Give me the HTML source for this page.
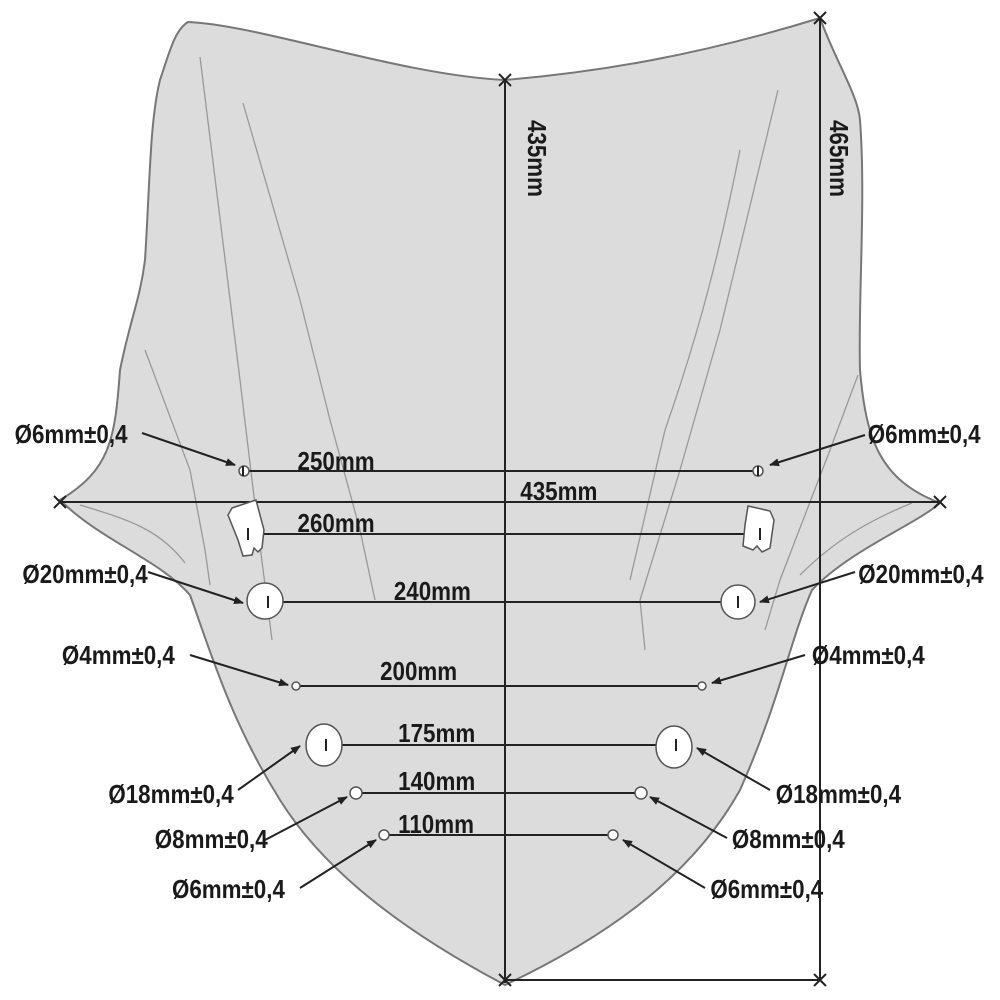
<!DOCTYPE html>
<html><head><style>
html,body{margin:0;padding:0;background:#fff;width:1000px;height:1000px;overflow:hidden}
svg text{font-family:"Liberation Sans",sans-serif;font-weight:bold;fill:#1a1a1a}
</style></head><body>
<svg width="1000" height="1000" viewBox="0 0 1000 1000" xmlns="http://www.w3.org/2000/svg">
<defs><marker id="a" markerWidth="10" markerHeight="8" refX="9" refY="4" orient="auto" markerUnits="userSpaceOnUse"><path d="M0,0 L10,4 L0,8 Z" fill="#222"/></marker></defs>
<path d="M188,22 C260,25 400,75 505,80 C600,72 700,55 820,18 C835,60 858,95 860,120 C866,200 858,300 860,370 C866,440 880,480 940,503 C915,525 850,550 812,590 C790,640 780,700 740,790 C690,880 600,940 505,985 C420,940 330,880 280,800 C230,720 210,650 190,595 C160,560 100,540 60,500 C110,470 115,440 120,370 C130,320 140,300 145,260 C150,180 150,120 160,80 C170,50 175,30 188,22 Z" fill="#dcdcdc" stroke="#777" stroke-width="2"/>
<g stroke="#999" stroke-width="1.3" fill="none">
<path d="M200,57 L240,380 L258,530 L272,640"/>
<path d="M243,103 L300,300 L330,420 L360,530 L375,600"/>
<path d="M145,350 L190,470 L205,550 L210,585"/>
<path d="M80,505 C130,520 160,530 185,563"/>
<path d="M778,90 L720,330 L680,470 L640,600 L645,650"/>
<path d="M740,150 C720,250 700,330 665,430 L630,580"/>
<path d="M858,375 L830,450 L780,580 L765,630"/>
<path d="M912,503 C870,520 835,540 800,575"/>
</g>
<g stroke="#222" stroke-width="2" fill="none">
<line x1="505" y1="80" x2="505" y2="983"/>
<line x1="820" y1="18" x2="820" y2="980"/>
<line x1="505" y1="980" x2="820" y2="980"/>
<line x1="60" y1="502" x2="940" y2="502"/>
<path d="M499,74 l12,12 M511,74 l-12,12 M814,12 l12,12 M826,12 l-12,12 M499,974 l12,12 M511,974 l-12,12 M814,974 l12,12 M826,974 l-12,12 M54,496 l12,12 M66,496 l-12,12 M934,496 l12,12 M946,496 l-12,12"/>
<line x1="243" y1="471" x2="758" y2="471"/>
<line x1="248" y1="534" x2="760" y2="534"/>
<line x1="268" y1="602" x2="738" y2="602"/>
<line x1="296" y1="686" x2="703" y2="686"/>
<line x1="326" y1="745" x2="676" y2="745"/>
<line x1="357" y1="793" x2="640" y2="793"/>
<line x1="385" y1="835" x2="613" y2="835"/>
</g>
<g fill="#fff" stroke="#555" stroke-width="1.5">
<circle cx="244" cy="471" r="5"/><circle cx="758" cy="471" r="5"/>
<path d="M232,508 L256,500 L264,530 L262,548 L258,552 L254,548 L252,555 L243,556 L238,540 L228,515 Z"/>
<path d="M748,506 L770,511 L774,520 L770,548 L762,552 L757,546 L753,550 L743,546 L745,525 Z"/>
<circle cx="265" cy="601" r="18"/><circle cx="738" cy="602" r="17"/>
<circle cx="296" cy="686" r="4"/><circle cx="702" cy="686" r="4"/>
<ellipse cx="324" cy="745" rx="18" ry="21"/><ellipse cx="674" cy="747" rx="18" ry="21"/>
<circle cx="356" cy="793" r="6"/><circle cx="641" cy="793" r="6"/>
<circle cx="384" cy="835" r="5"/><circle cx="613" cy="835" r="5"/>
</g>
<g stroke="#222" stroke-width="2">
<line x1="243" y1="466" x2="243" y2="476"/><line x1="758" y1="466" x2="758" y2="476"/>
<line x1="248" y1="528" x2="248" y2="540"/><line x1="760" y1="528" x2="760" y2="540"/>
<line x1="268" y1="596" x2="268" y2="608"/><line x1="738" y1="596" x2="738" y2="608"/>
<line x1="326" y1="739" x2="326" y2="751"/><line x1="676" y1="739" x2="676" y2="751"/>
</g>
<g stroke="#222" stroke-width="2" marker-end="url(#a)">
<line x1="142" y1="433" x2="235" y2="465"/>
<line x1="865" y1="435" x2="770" y2="465"/>
<line x1="148" y1="572" x2="243" y2="603"/>
<line x1="855" y1="572" x2="760" y2="602"/>
<line x1="190" y1="655" x2="288" y2="685"/>
<line x1="805" y1="655" x2="712" y2="683"/>
<line x1="238" y1="790" x2="300" y2="746"/>
<line x1="770" y1="790" x2="697" y2="748"/>
<line x1="265" y1="840" x2="347" y2="797"/>
<line x1="727" y1="838" x2="650" y2="797"/>
<line x1="300" y1="888" x2="376" y2="840"/>
<line x1="705" y1="888" x2="623" y2="840"/>
</g>
<g font-size="26" transform="scale(0.86,1)">
<text x="346" y="470">250mm</text>
<text x="346" y="532">260mm</text>
<text x="458" y="600">240mm</text>
<text x="442" y="680">200mm</text>
<text x="463" y="742">175mm</text>
<text x="463" y="790">140mm</text>
<text x="463" y="833">110mm</text>
<text x="605" y="500">435mm</text>
<text x="17" y="443">Ø6mm±0,4</text>
<text x="1009" y="443">Ø6mm±0,4</text>
<text x="26" y="583">Ø20mm±0,4</text>
<text x="998" y="583">Ø20mm±0,4</text>
<text x="72" y="664">Ø4mm±0,4</text>
<text x="944" y="664">Ø4mm±0,4</text>
<text x="126" y="803">Ø18mm±0,4</text>
<text x="902" y="803">Ø18mm±0,4</text>
<text x="180" y="848">Ø8mm±0,4</text>
<text x="851" y="848">Ø8mm±0,4</text>
<text x="200" y="898">Ø6mm±0,4</text>
<text x="826" y="898">Ø6mm±0,4</text>
</g>
<text font-size="26" transform="translate(528,120) rotate(90) scale(0.86,1)">435mm</text>
<text font-size="26" transform="translate(830,120) rotate(90) scale(0.86,1)">465mm</text>
</svg>
</body></html>
